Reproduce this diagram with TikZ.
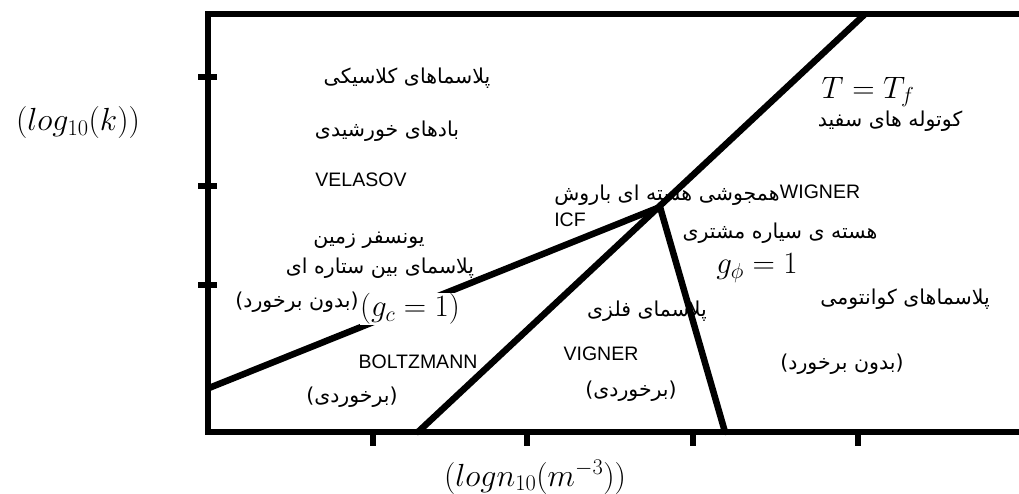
\documentclass[tikz,border=0pt]{standalone}
\usepackage{fix-cm}
\usepackage{fontspec}
\usepackage{tikz}
\usetikzlibrary{positioning,calc}
\TeXXeTstate=1
\newfontfamily\farsifont[Script=Arabic]{DejaVu Sans}
\newfontfamily\latinfont{Liberation Sans}
\newcommand{\fa}[1]{{\farsifont\beginR #1\endR}}

\begin{document}
\begin{tikzpicture}[
        x=1pt, y=-1pt,
        frame/.style={line width=6pt, line cap=butt, line join=miter},
        tick/.style={line width=6pt},
        border/.style={line width=6.5pt, line cap=round},
        falabel/.style={font=\fontsize{20.5}{23}\selectfont\farsifont, inner sep=1pt},
        latlabel/.style={font=\fontsize{19.5}{22}\selectfont\latinfont, inner sep=1pt},
        mathlabel/.style={font=\fontsize{31}{34}\selectfont, inner sep=1pt},
        axislabel/.style={font=\fontsize{32}{35}\selectfont, inner sep=1pt}
        ]
        \useasboundingbox (0,0) rectangle (1019,494);

        % frame and ticks
        \draw[frame] (1019,14) -- (208,14) -- (208,432) -- (1019,432);
        \foreach \ty in {77,186,285}
            \draw[tick] (198,\ty) -- (217,\ty);
        \foreach \tx in {373,527,693,858}
            \draw[tick] (\tx,432) -- (\tx,446);

        % region borders
        \coordinate (tfbot) at (418,432);
        \coordinate (tftop) at (864,15);
        \coordinate (junc) at (660,207);
        \coordinate (gcstart) at (209,388);
        \coordinate (gphibot) at (725,432);
        \draw[border] (tfbot) -- (tftop);
        \draw[border] (gcstart) -- (junc);
        \draw[border] (junc) -- (gphibot);

        % left regions
        \node[falabel] (classic) at (407,78) {\fa{پلاسماهای کلاسیکی}};
        \node[falabel] (solar) at (387,131) {\fa{بادهای خورشیدی}};
        \node[latlabel] (velasov) at (361,180) {VELASOV};
        \node[falabel] (iono) at (369,240) {\fa{یونسفر زمین}};
        \node[falabel] (inter) at (380,268) {\fa{پلاسمای بین ستاره ای}};
        \node[falabel] (nocollL) at (297,302) {\fa{(بدون برخورد)}};
        \node[mathlabel, fill=white, inner xsep=0pt] (gc) at (410,309) {$(g_c = 1)$};
        \node[latlabel] (boltz) at (418,362) {BOLTZMANN};
        \node[falabel] (collL) at (352,397) {\fa{(برخوردی)}};

        % right regions
        \node[mathlabel] (tf) at (868,92) {$T = T_f$};
        \node[falabel] (dwarf) at (890,121) {\fa{کوتوله های سفید}};
        \node[falabel] (icffa) at (667,195) {\fa{همجوشی هسته ای باروش}};
        \node[latlabel] (wigner) at (820,192) {WIGNER};
        \node[latlabel] (icf) at (570,220) {ICF};
        \node[falabel] (jupiter) at (780,233) {\fa{هسته ی سیاره مشتری}};
        \node[mathlabel] (gphi) at (757,268) {$g_\phi = 1$};
        \node[falabel] (quantum) at (905,299) {\fa{پلاسماهای کوانتومی}};
        \node[falabel] (metal) at (647,311) {\fa{پلاسمای فلزی}};
        \node[latlabel] (vigner) at (601,354) {VIGNER};
        \node[falabel] (collM) at (631,391) {\fa{(برخوردی)}};
        \node[falabel] (nocollR) at (842,364) {\fa{(بدون برخورد)}};

        % axis labels
        \node[axislabel] (ylab) at (78,123) {$(log_{10}(k))$};
        \node[axislabel] (xlab) at (535,477) {$(logn_{10}(m^{-3}))$};

    \end{tikzpicture}
\end{document}
